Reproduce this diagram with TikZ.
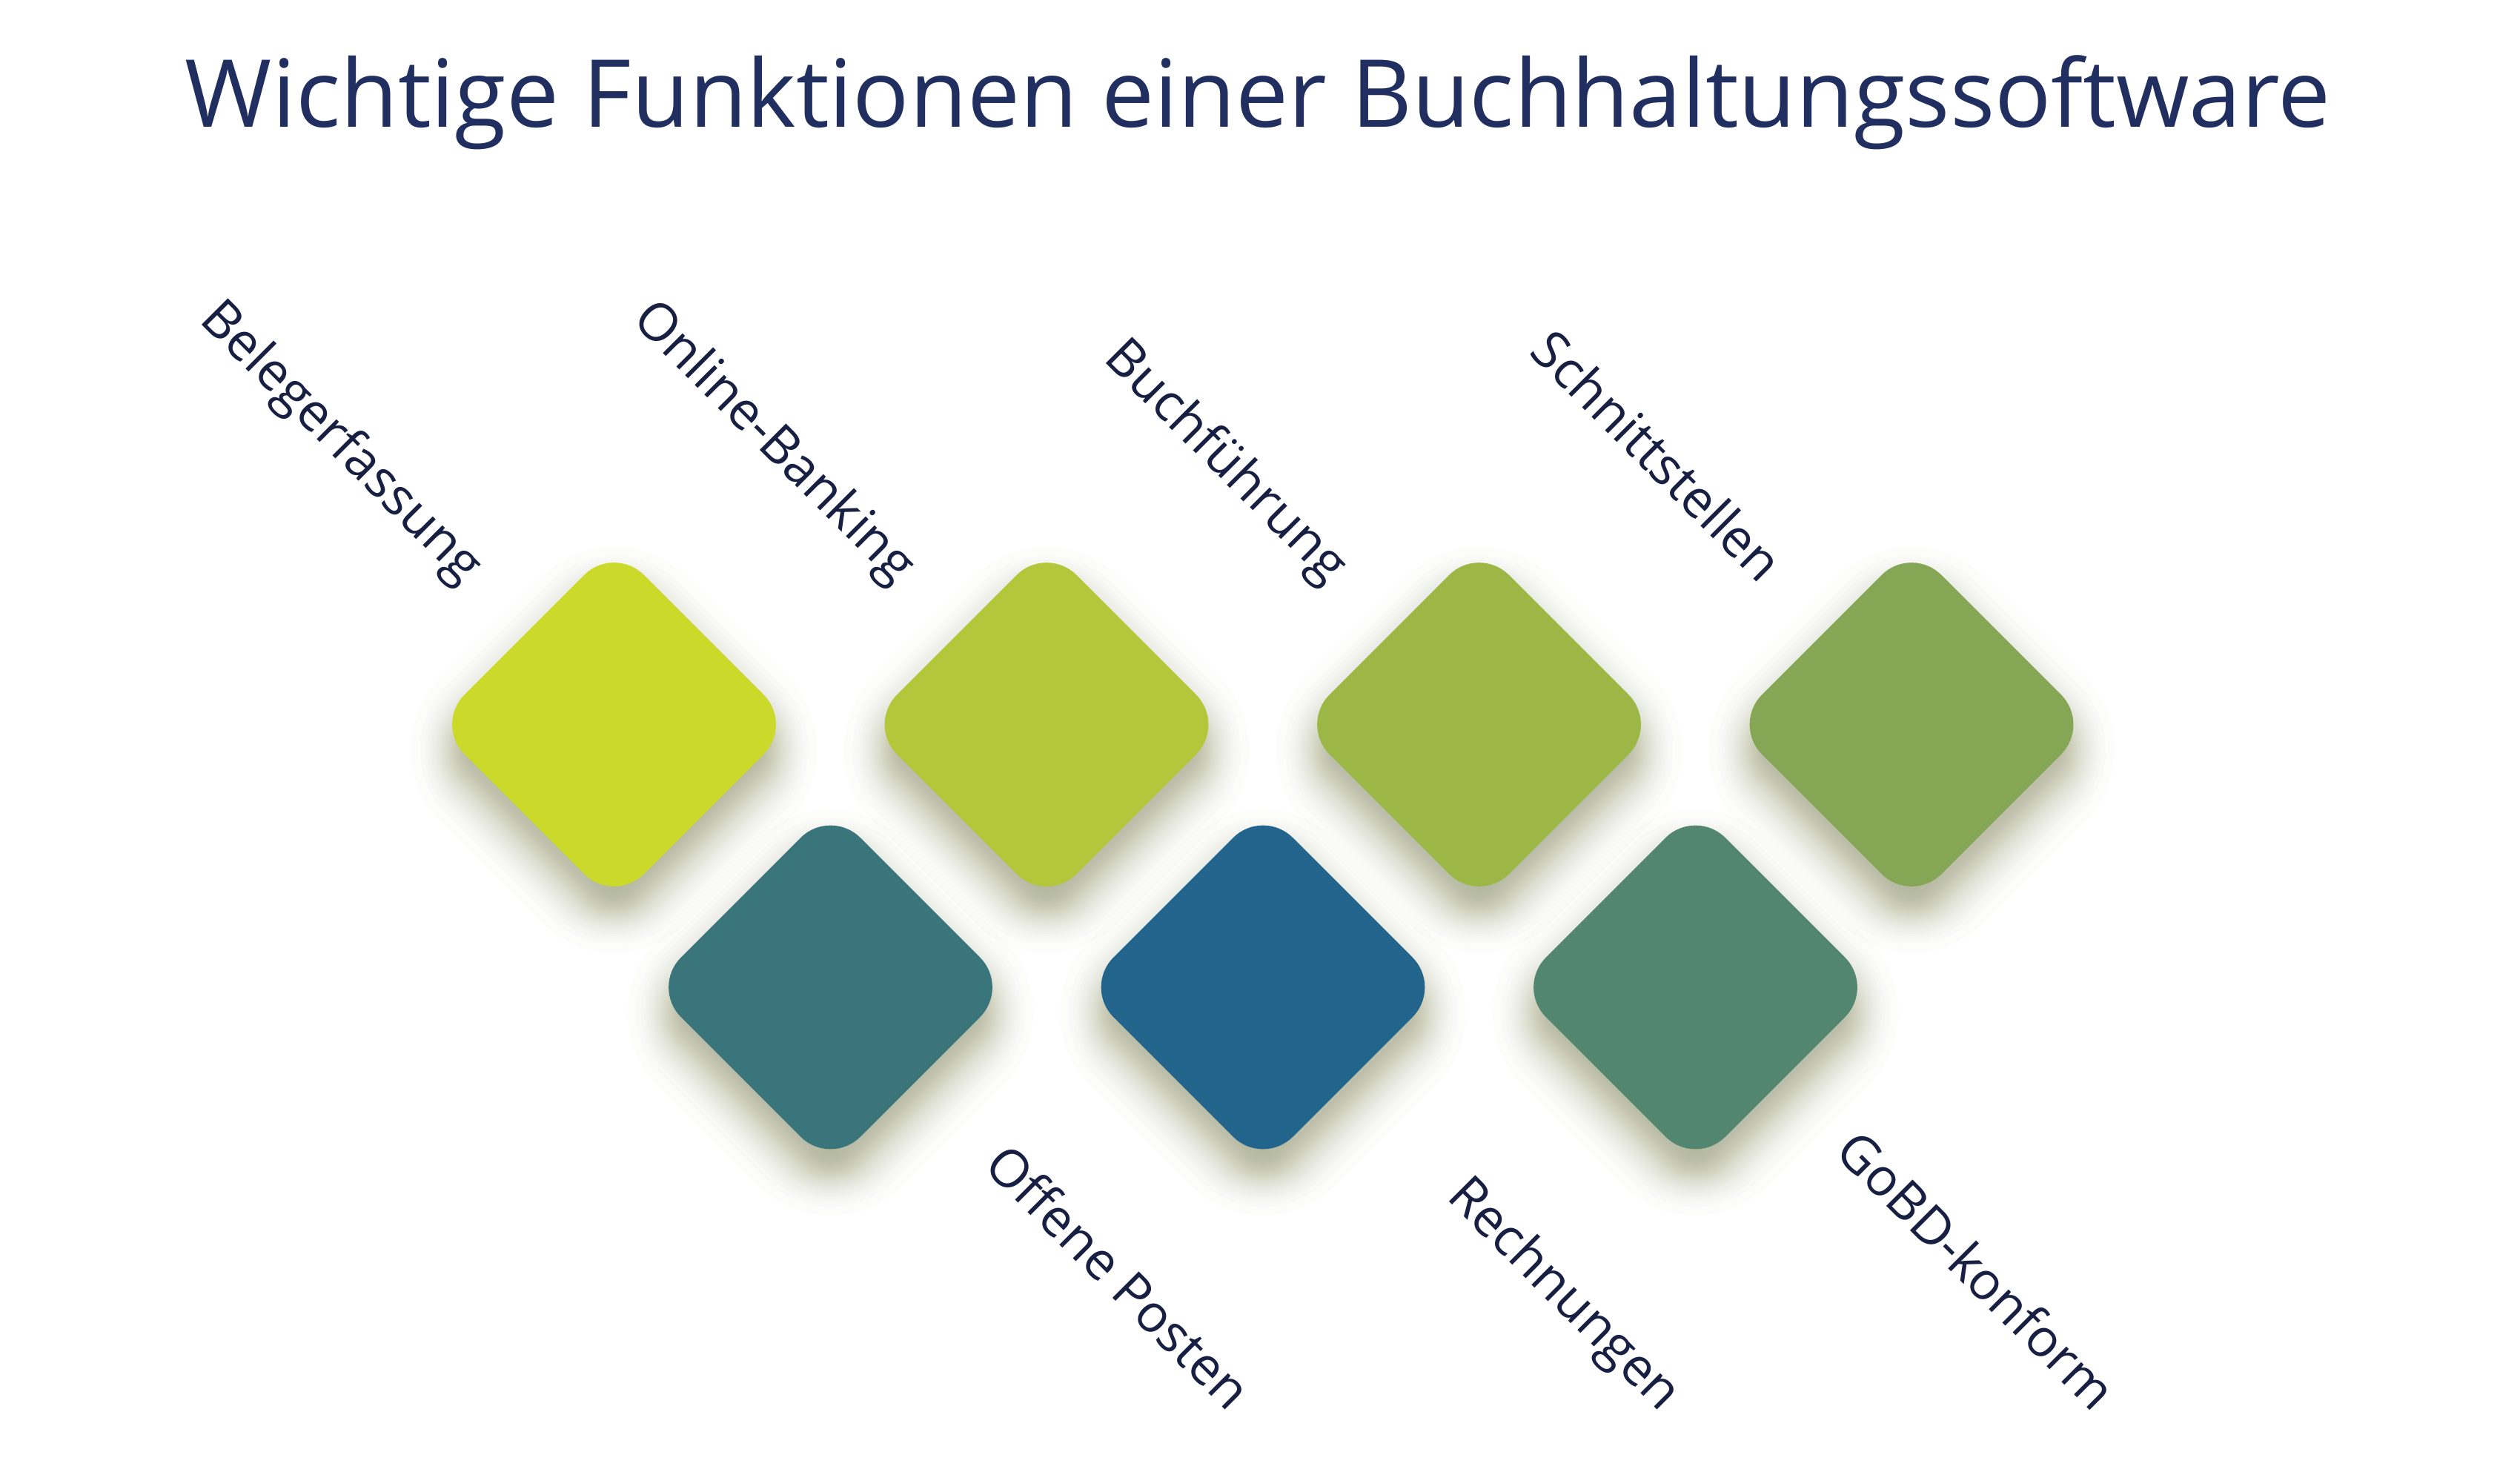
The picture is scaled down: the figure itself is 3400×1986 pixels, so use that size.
\documentclass[tikz,border=0pt]{standalone}
\usepackage{fontspec}
\setmainfont{Open Sans}
\usetikzlibrary{calc}
\definecolor{c1}{RGB}{203,217,42}
\definecolor{c2}{RGB}{178,199,58}
\definecolor{c3}{RGB}{157,183,70}
\definecolor{c4}{RGB}{132,166,85}
\definecolor{c5}{RGB}{59,117,124}
\definecolor{c6}{RGB}{34,100,139}
\definecolor{c7}{RGB}{82,134,112}
\definecolor{shc}{RGB}{135,141,88}
\definecolor{titlec}{RGB}{33,46,96}
\definecolor{labelc}{RGB}{23,32,66}
% #1 centre name, #2 growth, #3 vertical offset, #4 options
\newcommand{\rdiamond}[4]{%
  \pgfmathsetmacro\hh{242+1.41421*(#2)}%
  \pgfmathsetmacro\hm{\hh/2}%
  \pgfmathsetmacro\rr{max(57+1.3*(#2),2)*0.284528}%
  \path[#4,rounded corners=\rr pt]
    ($(#1)+(\hm,\hm+#3)$) -- ($(#1)+(\hh,#3)$) -- ($(#1)+(0,-\hh+#3)$)
    -- ($(#1)+(-\hh,#3)$) -- ($(#1)+(0,\hh+#3)$) -- cycle;}
\begin{document}
\begin{tikzpicture}[x=0.01cm,y=0.01cm,
  lbl/.style={rotate=-45, anchor=base east, inner sep=0pt, font=\fontsize{20}{24}\selectfont, text=labelc},
  shadowlayer/.style={fill=shc, fill opacity=0.018}]
\fill[white] (0,0) rectangle (3400,-1986);
\useasboundingbox (0,0) rectangle (3400,-1986);
\node[anchor=base, text=titlec, font=\fontsize{36}{43}\selectfont] (title) at (1697,-172) {Wichtige Funktionen einer Buchhaltungssoftware};
\foreach \n/\x/\y in {d1/828.5/977.5, d2/1412/977.5, d3/1995.5/977.5, d4/2579/977.5, b1/1120.5/1332, b2/1704/1332, b3/2287.5/1332}{
  \coordinate (\n) at (\x,-\y);
}
\foreach \n in {d1,d2,d3,d4,b1,b2,b3}{
  \foreach \z in {-2.241,-1.780,-1.534,-1.356,-1.213,-1.092,-0.984,-0.887,-0.798,-0.714,
                  -0.636,-0.561,-0.489,-0.419,-0.352,-0.286,-0.221,-0.157,-0.094,-0.031,
                  0.031,0.094,0.157,0.221,0.286,0.352,0.419,0.489,0.561,0.636,
                  0.714,0.798,0.887,0.984,1.092,1.213,1.356,1.534,1.780,2.241}{
    \rdiamond{\n}{28*\z}{-34}{shadowlayer}
  }
}
\foreach \n/\c in {d1/c1,d2/c2,d3/c3,d4/c4,b1/c5,b2/c6,b3/c7}{
  \rdiamond{\n}{0}{0}{fill=\c}
}
\node[lbl] (l1) at ($(d1)+(-204.2,187.6)$) {Belegerfassung};
\node[lbl] (l2) at ($(d2)+(-204.2,187.6)$) {Online-Banking};
\node[lbl] (l3) at ($(d3)+(-204.2,187.6)$) {Buchführung};
\node[lbl] (l4) at ($(d4)+(-204.2,187.6)$) {Schnittstellen};
\node[lbl] (l5) at ($(b1)+(536.7,-574.9)$) {Offene Posten};
\node[lbl] (l6) at ($(b2)+(536.7,-574.9)$) {Rechnungen};
\node[lbl] (l7) at ($(b3)+(536.7,-574.9)$) {GoBD-konform};
\end{tikzpicture}
\end{document}
